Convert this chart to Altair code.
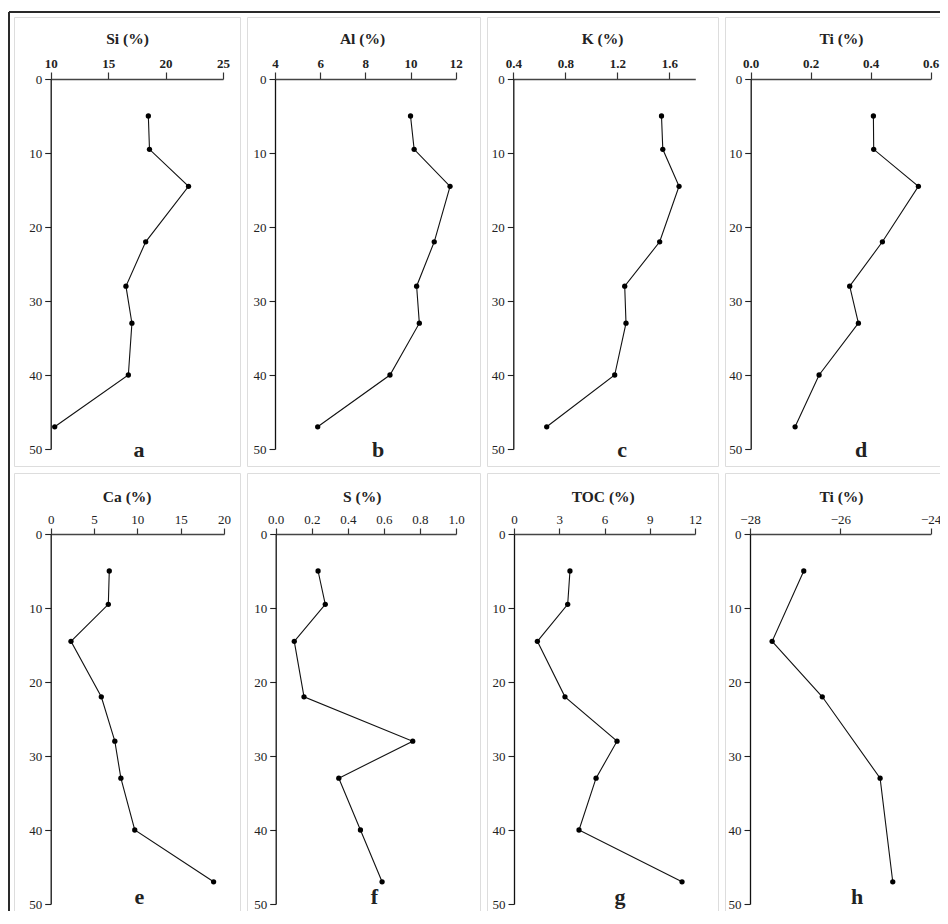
import altair as alt
import pandas as pd

FONT = "Liberation Serif"

# ---- data ----
depth = [5, 9.5, 14.5, 22, 28, 33, 40, 47]
si = [18.5, 18.6, 22.0, 18.27, 16.55, 17.07, 16.76, 10.35]
al = [10.0, 10.16, 11.75, 11.05, 10.27, 10.39, 9.09, 5.89]
k = [1.54, 1.55, 1.675, 1.526, 1.257, 1.267, 1.18, 0.657]
ti = [0.409, 0.41, 0.559, 0.439, 0.33, 0.359, 0.228, 0.148]
ca = [6.76, 6.65, 2.34, 5.84, 7.4, 8.1, 9.7, 18.8]
s = [0.235, 0.275, 0.103, 0.157, 0.76, 0.35, 0.47, 0.59]
toc = [3.71, 3.56, 1.55, 3.38, 6.83, 5.44, 4.31, 11.14]
depth_h = [5, 14.5, 22, 33, 47]
ti_h = [-26.81, -27.51, -26.40, -25.12, -24.84]

depth_ticks = [0, 10, 20, 30, 40, 50]


def panel(vals, depths, name, letter, domain, ticks, fmt, x0, x1, y0, y1,
          width, height, title_x, title_y, letter_x, letter_y, bold,
          tick_len, frame=False):
    df = pd.DataFrame({"value": vals, "depth": depths})
    xaxis = alt.Axis(
        orient="top", values=ticks, format=fmt, offset=-y0,
        title=name, titleX=title_x, titleY=title_y - y0,
        titleBaseline="middle", titleAlign="center",
        titleFont=FONT, titleFontSize=15.5, titleFontWeight="bold",
        titleColor="#222",
        labelFont=FONT, labelFontSize=13,
        labelFontWeight="bold" if bold else "normal",
        labelColor="#222", labelFlush=False, labelOverlap=False,
        labelPadding=2, tickSize=tick_len, tickColor="#333",
        domainColor="#444", domainWidth=1.4, tickWidth=1.2, grid=False,
    )
    yaxis = alt.Axis(
        orient="left", values=depth_ticks, format="d", offset=-x0,
        title=None, labelFont=FONT, labelFontSize=13, labelColor="#222",
        labelFlush=False, labelOverlap=False, labelPadding=3,
        tickSize=6, tickColor="#222", domainColor="#111", domainWidth=1.3,
        tickWidth=1.1, grid=False,
    )
    base = alt.Chart(df).encode(
        x=alt.X("value:Q",
                scale=alt.Scale(domain=domain, range=[x0, x1], nice=False,
                                zero=False),
                axis=xaxis),
        y=alt.Y("depth:Q",
                scale=alt.Scale(domain=[0, 50], range=[y0, y1], nice=False,
                                zero=False),
                axis=yaxis),
        order=alt.Order("depth:Q"),
    )
    line = base.mark_line(color="#111", strokeWidth=1.1)
    pts = base.mark_circle(color="#000", size=28, opacity=1)
    lab = alt.Chart(pd.DataFrame({"letter": [letter]})).mark_text(
        font=FONT, fontSize=22, fontWeight="bold", color="#222",
        align="center", baseline="alphabetic",
    ).encode(text="letter:N", x=alt.value(letter_x), y=alt.value(letter_y))
    layers = [line, pts, lab]
    if frame:
        fr = pd.DataFrame({"f": [0]})
        top = alt.Chart(fr).mark_rule(color="#2a2a2a", strokeWidth=2).encode(
            x=alt.value(-5), x2=alt.value(940), y=alt.value(-5))
        left = alt.Chart(fr).mark_rule(color="#2a2a2a", strokeWidth=2).encode(
            x=alt.value(-5), y=alt.value(-5), y2=alt.value(908))
        layers = [top, left] + layers
    return alt.layer(*layers).properties(width=width, height=height)


H = 449
r1 = (62, 432)
r2 = (61, 431)
L1 = 439.7   # letter baseline, row 1
L2 = 431     # letter baseline, row 2

pa = panel(si, depth, "Si (%)", "a", [10, 25], [10, 15, 20, 25], "d",
           36.7, 209, *r1, 226, H, 113, 21, 125, L1, True, 7, frame=True)
pb = panel(al, depth, "Al (%)", "b", [4, 12], [4, 6, 8, 10, 12], "d",
           28, 208.7, *r1, 233, H, 115, 21, 131, L1, True, 7)
pc = panel(k, depth, "K (%)", "c", [0.4, 1.8], [0.4, 0.8, 1.2, 1.6], ".1f",
           26.3, 208.3, *r1, 231, H, 115, 21, 135, L1, True, 7)
pd_ = panel(ti, depth, "Ti (%)", "d", [0, 0.6], [0, 0.2, 0.4, 0.6], ".1f",
            25.7, 205.7, *r1, 222, H, 116, 21, 136, L1, True, 7)

pe = panel(ca, depth, "Ca (%)", "e", [0, 20], [0, 5, 10, 15, 20], "d",
           36.7, 210, *r2, 226, H, 112.7, 23.7, 125.3, L2, False, 6)
pf = panel(s, depth, "S (%)", "f", [0, 1], [0, 0.2, 0.4, 0.6, 0.8, 1.0],
           ".1f", 28.7, 209, *r2, 233, H, 114.7, 23.7, 127.3, L2, False, 6)
pg = panel(toc, depth, "TOC (%)", "g", [0, 12], [0, 3, 6, 9, 12], "d",
           27, 208, *r2, 231, H, 115.7, 23.7, 133, L2, False, 6)
ph = panel(ti_h, depth_h, "Ti (%)", "h", [-28, -24], [-28, -26, -24], "d",
           25, 205.7, *r2, 222, H, 116, 23.7, 132, L2, False, 6)

chart = alt.concat(pa, pb, pc, pd_, pe, pf, pg, ph, columns=4, spacing=7,
                   bounds="flush").properties(
    autosize=alt.AutoSizeParams(type="none"),
    padding={"top": 9, "left": 6, "right": 926, "bottom": 894},
).configure_view(
    stroke="#707070", strokeWidth=1.5
).configure(background="white")

chart.save("out.html", embed_options={"renderer": "svg", "actions": False})
